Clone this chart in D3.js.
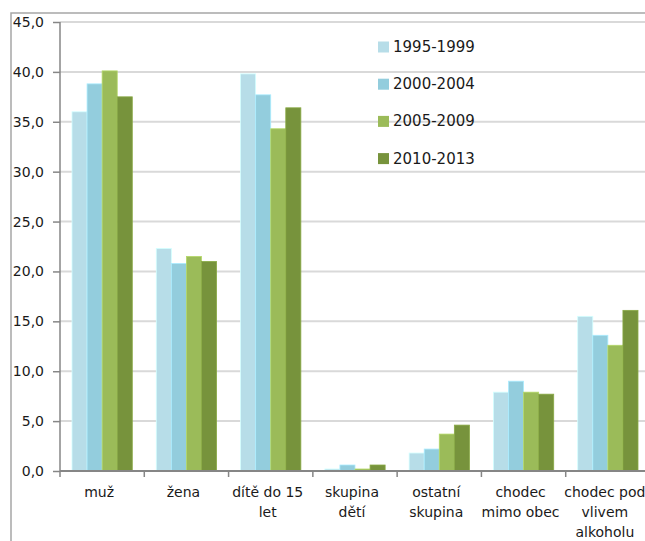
<!DOCTYPE html>
<html>
<head>
<meta charset="utf-8">
<script src="https://cdn.jsdelivr.net/npm/d3@7"></script>
<style>
  body { margin: 0; background: #fff; }
  text { font-family: "DejaVu Sans", sans-serif; fill: #1a1a1a; }
</style>
</head>
<body>
<div id="chart"></div>
<script>
var categories = ["muž", "žena", "dítě do 15|let", "skupina|dětí", "ostatní|skupina", "chodec|mimo obec", "chodec pod|vlivem|alkoholu"]
var series = ["1995-1999", "2000-2004", "2005-2009", "2010-2013"]
var values1995 = [36.0, 22.3, 39.8, 0.2, 1.8, 7.9, 15.5]
var values2000 = [38.8, 20.8, 37.7, 0.6, 2.2, 9.0, 13.6]
var values2005 = [40.1, 21.5, 34.3, 0.2, 3.7, 7.9, 12.6]
var values2010 = [37.5, 21.0, 36.4, 0.6, 4.6, 7.7, 16.1]
var yTicks = [0, 5, 10, 15, 20, 25, 30, 35, 40, 45]
var colors = ["#b7dde8", "#93cddd", "#9bbb59", "#77933c"]

var allValues = [values1995, values2000, values2005, values2010]

var width = 645, height = 541
var plot = { left: 60, right: 650, top: 22, bottom: 471 }

var svg = d3.select("#chart").append("svg")
    .attr("width", width)
    .attr("height", height)

// outer chart border
svg.append("rect")
    .attr("x", 11).attr("y", 13)
    .attr("width", 700).attr("height", 600)
    .attr("fill", "none")
    .attr("stroke", "#a6a6a6")
    .attr("stroke-width", 1.5)

var x0 = d3.scaleBand()
    .domain(categories)
    .range([plot.left, plot.right])

var x1 = d3.scaleBand()
    .domain(series)
    .range([12, x0.bandwidth() - 12])

var y = d3.scaleLinear()
    .domain([0, 45])
    .range([plot.bottom, plot.top])

// gridlines
svg.selectAll(".grid")
    .data(yTicks.slice(1))
    .enter().append("line")
    .attr("class", "grid")
    .attr("x1", plot.left).attr("x2", width)
    .attr("y1", function(d) { return y(d) })
    .attr("y2", function(d) { return y(d) })
    .attr("stroke", "#d9d9d9")
    .attr("stroke-width", 2)

// bars
var rows = []
categories.forEach(function(c, i) {
  series.forEach(function(s, j) {
    rows.push({ cat: c, ser: s, value: allValues[j][i], color: colors[j] })
  })
})

svg.selectAll(".bar")
    .data(rows)
    .enter().append("rect")
    .attr("class", "bar")
    .attr("x", function(d) { return x0(d.cat) + x1(d.ser) })
    .attr("y", function(d) { return y(d.value) })
    .attr("width", x1.bandwidth())
    .attr("height", function(d) { return y(0) - y(d.value) })
    .attr("fill", function(d) { return d.color })
    .attr("stroke", function(d) { return d3.color(d.color).brighter(0.4) })
    .attr("stroke-width", 0.8)

// y axis
var yAxis = svg.append("g")
    .attr("transform", "translate(" + plot.left + ",0)")
    .call(d3.axisLeft(y).tickValues(yTicks).tickSize(7).tickPadding(9)
      .tickFormat(function(d) { return d3.format(".1f")(d).replace(".", ",") }))
yAxis.select(".domain").remove()
yAxis.selectAll(".tick line").attr("stroke", "#868686").attr("stroke-width", 1.5)
yAxis.selectAll("text").style("font-size", "14px").attr("fill", "#1a1a1a")
svg.append("line")
    .attr("x1", plot.left).attr("x2", plot.left)
    .attr("y1", plot.top).attr("y2", plot.bottom)
    .attr("stroke", "#868686").attr("stroke-width", 1.5)

// x axis
svg.append("line")
    .attr("x1", plot.left).attr("x2", width)
    .attr("y1", plot.bottom).attr("y2", plot.bottom)
    .attr("stroke", "#868686").attr("stroke-width", 2)

var boundaries = categories.map(function(c) { return x0(c) })
svg.selectAll(".xtick")
    .data(boundaries)
    .enter().append("line")
    .attr("class", "xtick")
    .attr("x1", function(d) { return d }).attr("x2", function(d) { return d })
    .attr("y1", plot.bottom).attr("y2", plot.bottom + 6)
    .attr("stroke", "#868686").attr("stroke-width", 1.5)

var labels = svg.selectAll(".xlabel")
    .data(categories)
    .enter().append("text")
    .attr("class", "xlabel")
    .attr("text-anchor", "middle")
    .style("font-size", "14px")

labels.selectAll("tspan")
    .data(function(d) { return d.split("|").map(function(t) { return { t: t, c: d } }) })
    .enter().append("tspan")
    .attr("x", function(d) { return x0(d.c) + x0.bandwidth() / 2 - 3 })
    .attr("y", function(d, i) { return 497 + i * 20 })
    .text(function(d) { return d.t })

// legend
var legend = svg.selectAll(".legend")
    .data(series)
    .enter().append("g")
    .attr("class", "legend")
    .attr("transform", function(d, i) { return "translate(378," + (47 + i * 37.2) + ")" })

legend.append("rect")
    .attr("x", 0).attr("y", -5.5)
    .attr("width", 11).attr("height", 11)
    .attr("fill", function(d, i) { return colors[i] })

legend.append("text")
    .attr("x", 15).attr("y", 5)
    .style("font-size", "15px")
    .text(function(d) { return d })
</script>
</body>
</html>
